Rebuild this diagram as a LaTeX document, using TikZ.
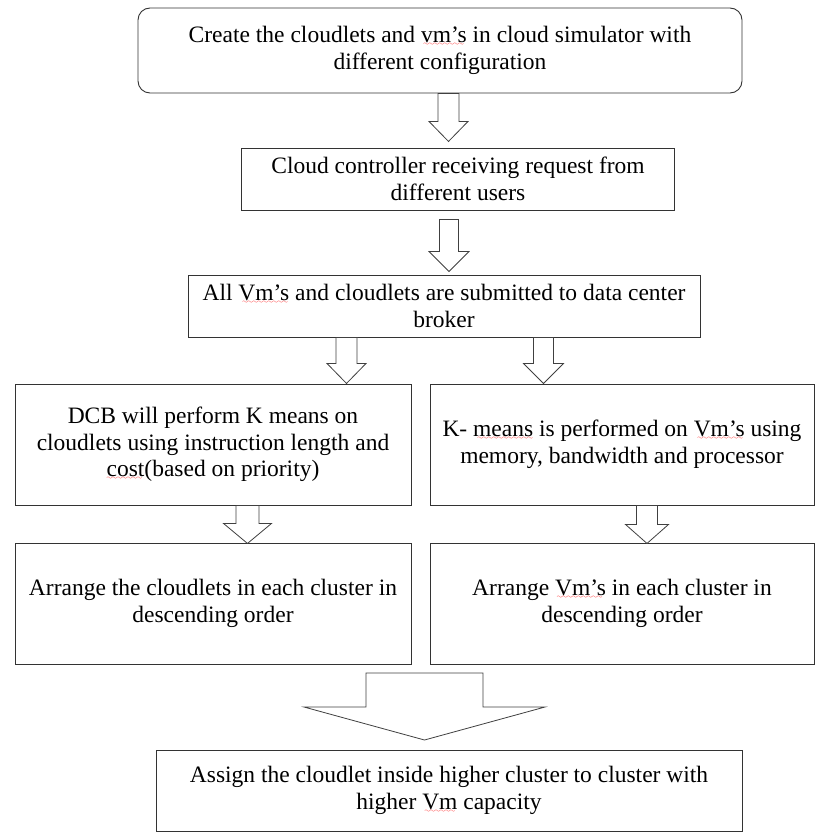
\documentclass[tikz,border=0pt]{standalone}
\usepackage{fontspec}
\setmainfont{Liberation Serif}

% red wavy mark under the words the spell checker flags
\font\spellwave=lasy6
\newsavebox{\spellbox}
\newcommand{\spell}[1]{\sbox{\spellbox}{#1}\rlap{\usebox{\spellbox}}%
    \leaders\hbox{\textcolor{red}{\lower3pt\hbox{\spellwave\char58}}}\hskip\wd\spellbox\relax}

% hollow block arrow: #1 start, #2 half shaft, #3 shaft length, #4 half head, #5 head length
\newcommand{\fatarrow}[5]{%
    \draw[fat_arrow] (#1) ++(-#2,0) -- ++(0,#3) -- ++({#2-#4},0) -- ++(#4,#5) -- ++(#4,-#5) -- ++({#2-#4},0) -- ++(0,-#3) -- cycle;}

\tikzset{
        box_base/.style={align=center, inner sep=0pt, draw=black!80, line width=0.9pt, font=\fontsize{23.5}{26.5}\selectfont},
        % First step
        box_start/.style={box_base, rounded corners=12pt},
        % Process steps
        box_process/.style={box_base},
        % Block arrows between steps
        fat_arrow/.style={draw=black!75, line width=0.8pt, fill=white}
}

\begin{document}
\begin{tikzpicture}[x=1pt, y=-1pt]
    \useasboundingbox (0,0) rectangle (815,832);

    \node[box_start, minimum width=604pt, minimum height=85pt] (create) at (440,50.5)
        {Create the cloudlets and \spell{vm’s} in cloud simulator with\\ different configuration};
    \node[box_process, minimum width=433pt, minimum height=62pt] (controller) at (458,179)
        {Cloud controller receiving request from\\ different users};
    \node[box_process, minimum width=512pt, minimum height=62pt] (broker) at (444,306)
        {All \spell{Vm’s} and cloudlets are submitted to data center\\ broker};

    % clustering
    \node[box_process, minimum width=396pt, minimum height=121pt] (kmeans_cl) at (213,444.5)
        {DCB will perform K means on\\ cloudlets using instruction length and\\ \spell{cost}(based on priority)};
    \node[box_process, minimum width=384pt, minimum height=121pt] (kmeans_vm) at (622,444.5)
        {K- \spell{means} is performed on \spell{Vm’s} using\\ memory, bandwidth and processor};

    % sorting
    \node[box_process, minimum width=396pt, minimum height=121pt] (sort_cl) at (213,603.5)
        {Arrange the cloudlets in each cluster in\\ descending order};
    \node[box_process, minimum width=384pt, minimum height=121pt] (sort_vm) at (622,603.5)
        {Arrange \spell{Vm’s} in each cluster in\\ descending order};

    \node[box_process, minimum width=586pt, minimum height=81pt] (assign) at (449,790.5)
        {Assign the cloudlet inside higher cluster to cluster with\\ higher \spell{Vm} capacity};

    \coordinate (merge) at (424.5,673);

    % arrows
    \fatarrow{[xshift=8.5pt]create.south}{10.5}{28}{19.5}{20}
    \fatarrow{[xshift=-9pt,yshift=-9pt]controller.south}{9.5}{32}{20}{20}
    \fatarrow{[xshift=-97.5pt]broker.south}{10.5}{26}{19.5}{20}
    \fatarrow{[xshift=99.5pt]broker.south}{10}{26}{20}{20}
    \fatarrow{[xshift=34.5pt]kmeans_cl.south}{11.5}{18}{24}{20}
    \fatarrow{[xshift=25pt]kmeans_vm.south}{10.5}{19}{21.5}{19}
    \fatarrow{merge}{58.5}{34}{120.5}{33}
\end{tikzpicture}
\end{document}
